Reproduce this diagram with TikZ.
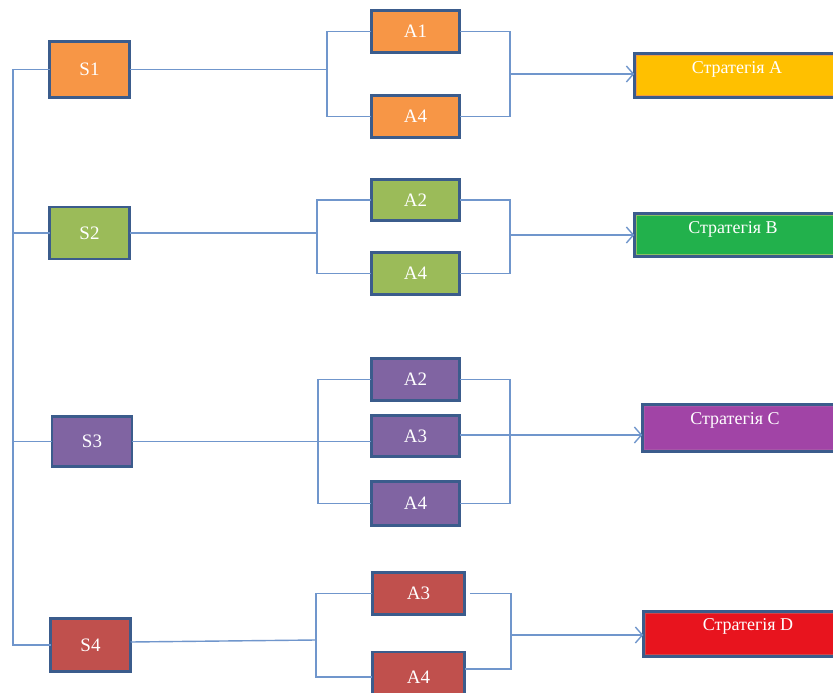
\documentclass[tikz,border=0pt]{standalone}
\usepackage{fontspec}
\setmainfont{Liberation Serif}
\usetikzlibrary{arrows.meta}
\definecolor{edgeblue}{HTML}{3B5C8C}
\definecolor{wireblue}{HTML}{7096CC}
\definecolor{orangebox}{HTML}{F79646}
\definecolor{greenbox}{HTML}{9BBB59}
\definecolor{purplebox}{HTML}{8064A2}
\definecolor{redbox}{HTML}{C0504D}
\definecolor{stratA}{HTML}{FFC000}
\definecolor{stratAin}{HTML}{F39A3C}
\definecolor{stratB}{HTML}{22B14C}
\definecolor{stratBin}{HTML}{8CC063}
\definecolor{stratC}{HTML}{A144A6}
\definecolor{stratCin}{HTML}{A656A8}
\definecolor{stratD}{HTML}{E8141E}
\definecolor{stratDin}{HTML}{D0454A}
\tikzset{
  x=1pt, y=1pt,
  box/.style={draw=edgeblue, line width=2.6pt, fill=#1, text=white,
    inner sep=0pt, outer sep=0pt, font=\fontsize{19}{19}\selectfont},
  sbox/.style={box=#1, minimum width=80pt, minimum height=52pt},
  abox/.style={box=#1, minimum width=88.5pt, minimum height=41.5pt},
  stratbox/.style 2 args={draw=edgeblue, line width=2.6pt, fill=#1,
    inner sep=0pt, outer sep=0pt, minimum width=205pt, minimum height=44pt,
    path picture={\draw[line width=1.6pt, #2]
      ([shift={(2.3pt,-2.3pt)}]path picture bounding box.north west) rectangle
      ([shift={(-2.3pt,2.3pt)}]path picture bounding box.south east);}},
  strattext/.style={text=white, anchor=base, inner sep=0pt,
    font=\fontsize{18}{18}\selectfont},
  wire/.style={draw=wireblue, line width=1.4pt},
  arr/.style={wire, -{Straight Barb[length=7pt, width=16pt, line width=1.4pt]}},
}
\begin{document}
\begin{tikzpicture}
\clip (0,0) rectangle (833,-693);
\fill[white] (0,0) rectangle (833,-693);

% source boxes
\node[sbox=orangebox, minimum height=56pt] (S1) at (89.5,-69.5) {S1};
\node[sbox=greenbox]  (S2) at (89.5,-233) {S2};
\node[sbox=purplebox, minimum height=50.5pt] (S3) at (92,-441.5) {S3};
\node[sbox=redbox, minimum height=53.5pt] (S4) at (90.5,-645) {S4};

% first group
\node[abox=orangebox] (g1a1) at (415.5,-31.5) {A1};
\node[abox=orangebox] (g1a4) at (415.5,-116.5) {A4};
% second group
\node[abox=greenbox] (g2a2) at (415.5,-200) {A2};
\node[abox=greenbox] (g2a4) at (415.5,-273.5) {A4};
% third group
\node[abox=purplebox, minimum height=42.5pt] (g3a2) at (415.5,-379.5) {A2};
\node[abox=purplebox] (g3a3) at (415.5,-436) {A3};
\node[abox=purplebox, minimum height=44.5pt] (g3a4) at (415.5,-503.5) {A4};
% fourth group
\node[abox=redbox, minimum width=92.5pt, minimum height=42.5pt] (g4a3) at (418.5,-593.5) {A3};
\node[abox=redbox, minimum width=92.5pt, minimum height=50pt] (g4a4) at (418.5,-677) {A4};

% strategies
\node[stratbox={stratA}{stratAin}, minimum height=44.5pt, minimum width=215pt, anchor=west] (SA) at (634.3,-75.5) {};
\node[stratbox={stratB}{stratBin}, minimum height=43.5pt, minimum width=215pt, anchor=west] (SB) at (634.3,-235) {};
\node[stratbox={stratC}{stratCin}, minimum height=47.5pt, minimum width=215pt, anchor=west] (SC) at (642.3,-428) {};
\node[stratbox={stratD}{stratDin}, minimum height=45.5pt, minimum width=215pt, anchor=west] (SD) at (643.3,-634) {};
\node[strattext] (tA) at (737,-74) {Стратегія A};
\node[strattext] (tB) at (733,-233) {Стратегія B};
\node[strattext] (tC) at (735,-424) {Стратегія C};
\node[strattext] (tD) at (748,-630) {Стратегія D};

% left spine
\coordinate (spine) at (13,0);
\draw[wire] (S1.west) -- (S1.west -| spine) -- (S4.west -| spine) -- (S4.west);
\draw[wire] (S2.west) -- (S2.west -| spine);
\draw[wire] (S3.west) -- (S3.west -| spine);

% group 1 brackets
\coordinate (L1) at (327,-71);
\coordinate (R1) at (510,-74);
\draw[wire] (S1.east) -- (S1.east -| L1);
\draw[wire] (g1a1.west) -- (g1a1.west -| L1) -- (g1a4.west -| L1) -- (g1a4.west);
\draw[wire] (g1a1.east) -- (g1a1.east -| R1) -- (g1a4.east -| R1) -- (g1a4.east);
\draw[arr] (R1) -- (R1 -| SA.west);

% group 2 brackets
\coordinate (L2) at (317,-235);
\coordinate (R2) at (510,-235);
\draw[wire] (S2.east) -- (S2.east -| L2);
\draw[wire] (g2a2.west) -- (g2a2.west -| L2) -- (g2a4.west -| L2) -- (g2a4.west);
\draw[wire] (g2a2.east) -- (g2a2.east -| R2) -- (g2a4.east -| R2) -- (g2a4.east);
\draw[arr] (R2) -- (R2 -| SB.west);

% group 3 brackets (S3 feeds A3 straight through the bracket)
\coordinate (L3) at (318,-441);
\coordinate (R3) at (510,-435);
\draw[wire] (S3.east) -- (S3.east -| g3a3.west);
\draw[wire] (g3a2.west) -- (g3a2.west -| L3) -- (g3a4.west -| L3) -- (g3a4.west);
\draw[wire] (g3a2.east) -- (g3a2.east -| R3) -- (g3a4.east -| R3) -- (g3a4.east);
\draw[wire] (g3a3.east |- R3) -- (R3);
\draw[arr] (R3) -- (R3 -| SC.west);

% group 4 brackets
\coordinate (L4) at (316,-640);
\coordinate (R4) at (511,-635);
\coordinate (L4b) at (316,-677);
\coordinate (R4b) at (511,-669);
\draw[wire] ([yshift=3pt]S4.east) -- (L4);
\draw[wire] (g4a3.west) -- (g4a3.west -| L4) -- (L4b) -- (g4a4.west |- L4b);
\draw[wire] ([xshift=5pt]g4a3.east) -- (g4a3.east -| R4) -- (R4b) -- (g4a4.east |- R4b);
\draw[arr] (R4) -- (R4 -| SD.west);
\end{tikzpicture}
\end{document}
